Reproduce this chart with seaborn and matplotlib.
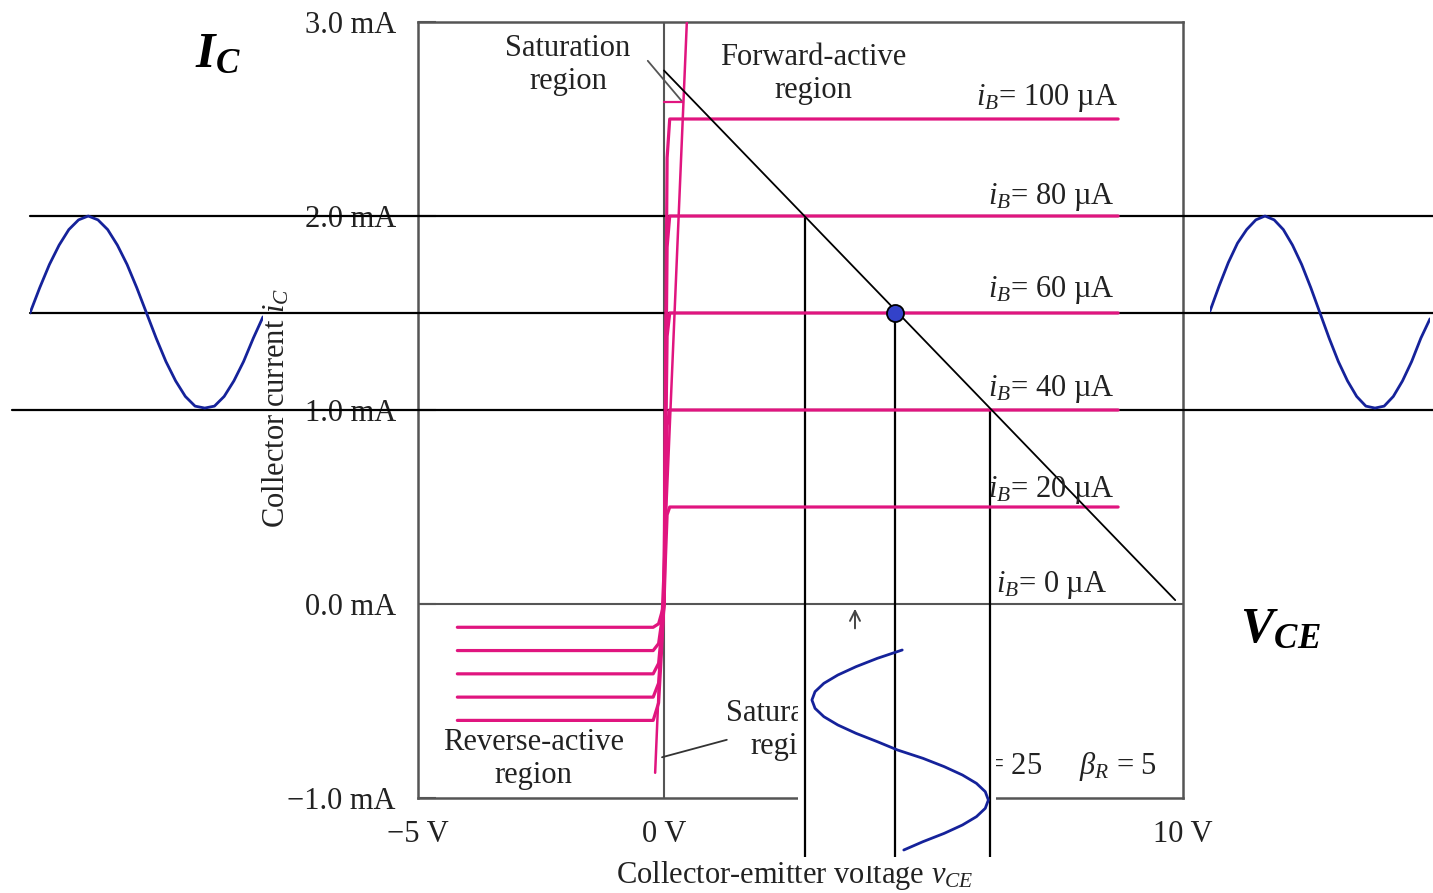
import numpy as np
import pandas as pd
import matplotlib
matplotlib.use("Agg")
import matplotlib.pyplot as plt
import seaborn as sns
from matplotlib.transforms import blended_transform_factory
from matplotlib.patches import Rectangle

# ---------------- data ----------------
base_labels_uA = [100, 80, 60, 40, 20, 0]
label_ic_mA = [2.61, 2.10, 1.62, 1.11, 0.59, 0.10]      # label anchor heights
label_right_v = [8.75, 8.69, 8.69, 8.69, 8.69, 8.55]    # label right edges (V)

forward_ic_mA = [2.5, 2.0, 1.5, 1.0, 0.5]               # i_B = 100..20 uA
reverse_ic_mA = [-0.60, -0.48, -0.36, -0.24, -0.12]     # reverse-active levels
rev_v_start = -4.2
fwd_v_end = 8.75
knee_v = [-0.22, -0.11, -0.05, 0.0, 0.03, 0.06, 0.11]
knee_rev_frac = [1.0, 0.85, 0.40, 0.0, 0.0, 0.0, 0.0]
knee_fwd_frac = [0.0, 0.0, 0.0, 0.0, 0.50, 0.92, 1.0]

steep_v = [-0.18, 0.44]
steep_i = [-0.87, 3.0]
short_v = [0.0, 0.37]
short_i = [2.59, 2.59]

load_v = [0.0, 9.85]
load_i = [2.75, 0.02]
q_v, q_i = 4.45, 1.5

swing_v = [2.72, 4.45, 6.28]          # load-line crossings
swing_i = [2.0, 1.5, 1.0]
hline_i = [2.0, 1.5, 1.0]
hline_start_px = [30, 30, 12]

phase_deg = list(range(0, 361, 15))
left_wave_ic = [1.50, 1.63, 1.75, 1.85, 1.93, 1.98, 2.00, 1.98, 1.93, 1.85, 1.75, 1.63,
                1.50, 1.37, 1.25, 1.15, 1.07, 1.02, 1.01, 1.02, 1.07, 1.15, 1.25, 1.37, 1.48]
right_wave_ic = [1.51, 1.64, 1.76, 1.86, 1.93, 1.98, 2.00, 1.98, 1.93, 1.85, 1.75, 1.63,
                 1.50, 1.37, 1.25, 1.15, 1.07, 1.02, 1.01, 1.02, 1.07, 1.15, 1.25, 1.37, 1.47]
bottom_wave_vce = [4.59, 4.11, 3.70, 3.35, 3.08, 2.91, 2.85, 2.91, 3.08, 3.35, 3.70, 4.11,
                   4.50, 4.99, 5.40, 5.75, 6.02, 6.19, 6.25, 6.19, 6.02, 5.75, 5.40, 4.99, 4.62]

x_ticks = [-5, 0, 10]
x_tick_labels = ["\u22125 V", "0 V", "10 V"]
y_ticks = [-1, 0, 1, 2, 3]
y_tick_labels = ["\u22121.0 mA", "0.0 mA", "1.0 mA", "2.0 mA", "3.0 mA"]

# ---------------- styling ----------------
sns.set_theme(style="white")
plt.rcParams['font.family'] = ['Liberation Serif', 'DejaVu Serif']
plt.rcParams['mathtext.fontset'] = 'custom'
plt.rcParams['mathtext.rm'] = 'Liberation Serif'
plt.rcParams['mathtext.it'] = 'Liberation Serif:italic'
plt.rcParams['mathtext.bf'] = 'Liberation Serif:bold:italic'

PINK = '#e0157f'
GRAY = '#555555'
TXT = '#222222'
NAVY = '#15229a'
FS = 22

W, H = 1433, 893
fig = plt.figure(figsize=(W / 100, H / 100), dpi=100)
fig.patch.set_facecolor('white')


def fx(px):
    return px / W


def fy(py):
    return 1 - py / H


ax = fig.add_axes([fx(418), fy(798), fx(1183) - fx(418), fy(22) - fy(798)])
NEG = 0.948


def fwd(x):
    x = np.asarray(x, float)
    return np.where(x < 0, x * NEG, x)


def inv(x):
    x = np.asarray(x, float)
    return np.where(x < 0, x / NEG, x)


ax.set_xscale('function', functions=(fwd, inv))
ax.set_xlim(-5, 10)
ax.set_ylim(-1, 3)
ax.set_autoscale_on(False)

# characteristic curves
rows = []
for k, (fi, ri) in enumerate(zip(forward_ic_mA, reverse_ic_mA)):
    vs = [rev_v_start] + knee_v + [fwd_v_end]
    iis = [ri] + [ri * a + fi * b for a, b in zip(knee_rev_frac, knee_fwd_frac)] + [fi]
    for v, i in zip(vs, iis):
        rows.append({'V': v, 'I': i, 'curve': k})
df = pd.DataFrame(rows)
sns.lineplot(data=df, x='V', y='I', units='curve', estimator=None, sort=False,
             color=PINK, lw=2.3, ax=ax, legend=False, zorder=3)
sns.lineplot(x=steep_v, y=steep_i, color=PINK, lw=1.8, ax=ax, sort=False,
             estimator=None, zorder=3)
sns.lineplot(x=short_v, y=short_i, color=PINK, lw=1.6, ax=ax, sort=False,
             estimator=None, zorder=3)

# zero lines
ax.axhline(0, color=GRAY, lw=1.5, zorder=2)
ax.axvline(0, color=GRAY, lw=1.5, zorder=2)

# leaders and arrow
ax.plot([-0.33, 0.35], [2.80, 2.59], color=GRAY, lw=1.3, zorder=2)
ax.plot([1.21, -0.04], [-0.70, -0.79], color='#333333', lw=1.3, zorder=2)
ax.annotate('', xy=(3.68, -0.01), xytext=(3.68, -0.14),
            arrowprops=dict(arrowstyle='->', color='#444444', lw=1.4,
                            mutation_scale=18))

# load line and Q point
sns.lineplot(x=load_v, y=load_i, color='black', lw=1.3, ax=ax, sort=False,
             estimator=None, zorder=4)
sns.scatterplot(x=[q_v], y=[q_i], s=150, color='#3342c9', edgecolor='black',
                linewidth=1.3, ax=ax, zorder=6)

# horizontal projection lines across figure
tr_h = blended_transform_factory(fig.transFigure, ax.transData)
for lvl, sx in zip(hline_i, hline_start_px):
    ax.plot([fx(sx), 1.0], [lvl, lvl], transform=tr_h, color='black', lw=1.6,
            clip_on=False, zorder=2.6)

# vertical projection lines down to bottom
y_bot = ax.transData.inverted().transform(fig.transFigure.transform((0, fy(857))))[1]
for v, i in zip(swing_v, swing_i):
    ax.plot([v, v], [i, y_bot], color='black', lw=1.6, clip_on=False, zorder=2.6)

# spines / ticks
for s in ax.spines.values():
    s.set_color(GRAY)
    s.set_linewidth(1.8)
ax.set_xticks(x_ticks)
ax.set_xticklabels(x_tick_labels)
ax.set_yticks(y_ticks)
ax.set_yticklabels(y_tick_labels)
ax.tick_params(axis='y', left=True, direction='in', length=13, width=1.5, color=GRAY,
               pad=16, labelsize=FS, labelcolor=TXT)
ax.tick_params(axis='x', bottom=False, length=0, pad=16, labelsize=FS, labelcolor=TXT)
ax.set_xlabel('')
ax.set_ylabel('')

# in-plot text
LS = 1.18
ax.text(-1.95, 2.78, 'Saturation\nregion', ha='center', va='center', fontsize=FS,
        color=TXT, linespacing=LS)
ax.text(2.87, 2.73, 'Forward-active\nregion', ha='center', va='center', fontsize=FS,
        color=TXT, linespacing=LS)
for ib, yy, xr in zip(base_labels_uA, label_ic_mA, label_right_v):
    ax.text(xr, yy, r'$i_B$= ' + str(ib) + ' \u00b5A', ha='right',
            va='center', fontsize=FS, color=TXT, zorder=5)
ax.text(-2.66, -0.80, 'Reverse-active\nregion', ha='center', va='center', fontsize=FS,
        color=TXT, linespacing=LS)
ax.text(2.41, -0.65, 'Saturation\nregion', ha='center', va='center', fontsize=FS,
        color=TXT, linespacing=LS)
ax.text(9.5, -0.84, r'$\beta_F$ = 25     $\beta_R$ = 5', ha='right', va='center',
        fontsize=FS, color=TXT)

# axis titles as figure text
fig.text(fx(276), fy(408), r'Collector current $i_C$', rotation=90, ha='center',
         va='center', fontsize=FS, color=TXT, zorder=0.2)
fig.text(fx(795), fy(876), r'Collector-emitter voltage $v_{CE}$', ha='center',
         va='center', fontsize=FS, color=TXT, zorder=0.2)
fig.text(fx(218), fy(55), r'$\mathbf{I_C}$', ha='center', va='center', fontsize=36,
         color='black')
fig.text(fx(1280), fy(630), r'$\mathbf{V_{CE}}$', ha='center', va='center', fontsize=36,
         color='black')

# white cover behind bottom wave
fig.add_artist(Rectangle((fx(798), fy(866)), fx(996) - fx(798), fy(640) - fy(866),
                         transform=fig.transFigure, facecolor='white',
                         edgecolor='none', zorder=0.5))

# bottom wave axes (shares V axis)
axb = fig.add_axes([fx(418), fy(857), fx(1183) - fx(418), fy(640) - fy(857)],
                   sharex=ax, zorder=1)
axb.patch.set_alpha(0)
axb.set_ylim(360 + 7 * 1.8, -18)
for v in swing_v:
    axb.axvline(v, color='black', lw=1.6)
sns.lineplot(x=bottom_wave_vce, y=phase_deg, sort=False, estimator=None, color=NAVY,
             lw=2.0, ax=axb)
axb.set_axis_off()

# left & right waves (share I axis scale)
axl = fig.add_axes([fx(30), fy(798), fx(263) - fx(30), fy(22) - fy(798)], zorder=1)
axl.patch.set_alpha(0)
sns.lineplot(x=phase_deg, y=left_wave_ic, sort=False, estimator=None, color=NAVY,
             lw=2.0, ax=axl)
axl.set_xlim(0, 360)
axl.set_ylim(-1, 3)
axl.set_axis_off()

axr = fig.add_axes([fx(1210), fy(798), fx(1430) - fx(1210), fy(22) - fy(798)], zorder=1)
axr.patch.set_alpha(0)
sns.lineplot(x=phase_deg, y=right_wave_ic, sort=False, estimator=None, color=NAVY,
             lw=2.0, ax=axr)
axr.set_xlim(0, 360)
axr.set_ylim(-1, 3)
axr.set_axis_off()

ax.set_xlim(-5, 10)
ax.set_ylim(-1, 3)

fig.savefig('out.png', dpi=100, facecolor='white')
